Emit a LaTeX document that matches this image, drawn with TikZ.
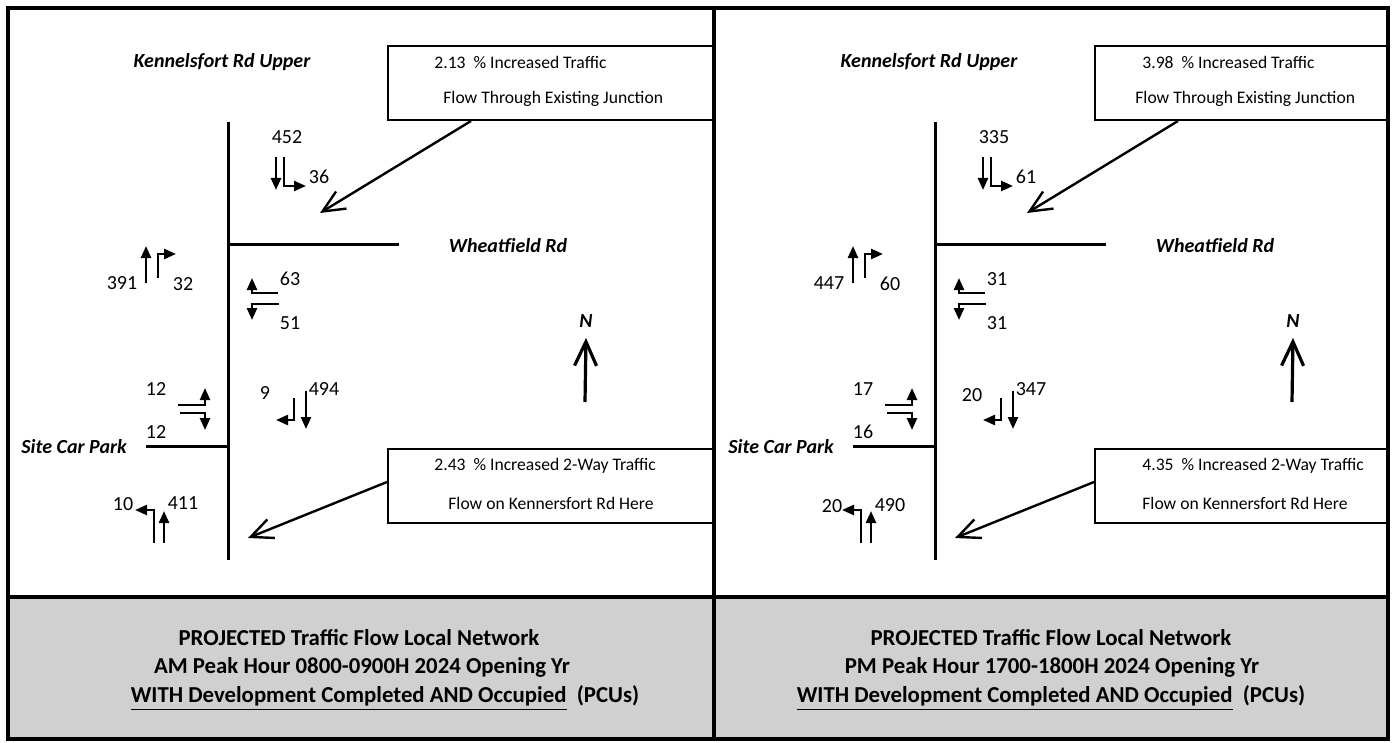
\documentclass[tikz,border=0pt]{standalone}
\usepackage{fontspec}
\setmainfont{Carlito}
\usepackage{tikz}
\usetikzlibrary{arrows.meta,positioning}
\definecolor{bandgray}{RGB}{208,208,208}

\begin{document}
\begin{tikzpicture}[x=0.5pt,y=-0.5pt,
  road/.style={line width=1.5pt},
  lane/.style={line width=1.2pt,-{Triangle[length=6pt,width=5pt]}},
  rdname/.style={font=\fontsize{10}{12}\selectfont\bfseries\itshape,inner sep=0pt},
  flow/.style={font=\fontsize{10}{12}\selectfont,inner sep=0pt},
  note/.style={draw,line width=1pt,anchor=north west,inner sep=0pt,minimum height=37pt},
  notetxt/.style={font=\fontsize{8.8}{10}\selectfont,anchor=west,inner sep=0pt},
  callout/.style={line width=1.2pt,-{Straight Barb[length=11pt,width=10pt]}},
  north/.style={line width=1.6pt,-{Straight Barb[length=12pt,width=11pt]}},
  caption/.style={font=\fontsize{11.4}{15}\selectfont\bfseries,inner sep=0pt}]
\useasboundingbox (0,0) rectangle (1396,743);
\fill[bandgray] (8,597) rectangle (1388,739);
\draw[line width=2pt] (8,8) rectangle (1388,739);
\draw[line width=2pt] (714,8) -- (714,739);
\draw[line width=2pt] (8,597) -- (1388,597);

% AM peak
\node (kupam) [rdname] at (222,62) {Kennelsfort Rd Upper};
\node (wfdam) [rdname] at (508,246) {Wheatfield Rd};
\node (scpam) [rdname] at (74,447) {Site Car Park};
\draw[road] (228,122) -- (228,560);
\draw[road] (228,245) -- (399,245);
\draw[road] (146,446) -- (228,446);

\node (sa1) [flow] at (287,137) {452};
\node (sa2) [flow] at (319,177) {36};
\draw[lane] (276,157) -- (276,190);
\draw[lane] (284,157) -- (284,186) -- (306,186);
\node (na1) [flow] at (122,283) {391};
\node (na2) [flow] at (183,284) {32};
\draw[lane] (146,283) -- (146,246);
\draw[lane] (158,278) -- (158,254) -- (176,254);
\node (wa1) [flow] at (290,279) {63};
\node (wa2) [flow] at (290,323) {51};
\draw[lane] (278,293) -- (252,293) -- (252,278);
\draw[lane] (279,304) -- (252,304) -- (252,320);
\node (ca1) [flow] at (156,389) {12};
\node (ca2) [flow] at (156,432) {12};
\draw[lane] (178,405) -- (205,405) -- (205,388);
\draw[lane] (180,413) -- (205,413) -- (205,430);
\node (sb1) [flow] at (265,393) {9};
\node (sb2) [flow] at (324,389) {494};
\draw[lane] (294,398) -- (294,420) -- (276,420);
\draw[lane] (306,391) -- (306,429);
\node (nb1) [flow] at (123,504) {10};
\node (nb2) [flow] at (183,503) {411};
\draw[lane] (154,543) -- (154,510) -- (135,510);
\draw[lane] (164,543) -- (164,511);

\node (jbxam) [note,minimum width=163pt] at (387,45) {};
\node (jt1am) [notetxt] at (434,62) {2.13\ \ \% Increased Traffic};
\node (jt2am) [notetxt] at (443,99) {Flow Through Existing Junction};
\coordinate (jtipam) at (320,213);
\draw[callout] ([xshift=42pt]jbxam.south west) -- (jtipam);
\node (kbxam) [note,minimum width=163pt] at (387,448) {};
\node (kt1am) [notetxt] at (434,466) {2.43\ \ \% Increased 2-Way Traffic};
\node (kt2am) [notetxt] at (448,503) {Flow on Kennersfort Rd Here};
\coordinate (ktipam) at (248,538);
\draw[callout] ([yshift=-17pt]kbxam.north west) -- (ktipam);

\node (nam) [rdname] at (586,321) {N};
\coordinate (ntam) at (585,402);
\draw[north] (ntam) -- ([yshift=-5pt]nam.south);

\node (cap1am) [caption] at (359,638) {PROJECTED Traffic Flow Local Network};
\node (cap2am) [caption] at (362,667) {AM Peak Hour 0800-0900H 2024 Opening Yr};
\node (cap3am) [caption] at (385,698) {\underline{WITH Development Completed AND Occupied}\ \ (PCUs)};

% PM peak
\begin{scope}[shift={(707,0)}]
\node (kuppm) [rdname] at (222,62) {Kennelsfort Rd Upper};
\node (wfdpm) [rdname] at (508,246) {Wheatfield Rd};
\node (scppm) [rdname] at (74,447) {Site Car Park};
\draw[road] (228,122) -- (228,560);
\draw[road] (228,245) -- (399,245);
\draw[road] (146,446) -- (228,446);

\node (sp1) [flow] at (287,137) {335};
\node (sp2) [flow] at (319,177) {61};
\draw[lane] (276,157) -- (276,190);
\draw[lane] (284,157) -- (284,186) -- (306,186);
\node (np1) [flow] at (122,283) {447};
\node (np2) [flow] at (183,284) {60};
\draw[lane] (146,283) -- (146,246);
\draw[lane] (158,278) -- (158,254) -- (176,254);
\node (wp1) [flow] at (290,279) {31};
\node (wp2) [flow] at (290,323) {31};
\draw[lane] (278,293) -- (252,293) -- (252,278);
\draw[lane] (279,304) -- (252,304) -- (252,320);
\node (cp1) [flow] at (156,389) {17};
\node (cp2) [flow] at (156,432) {16};
\draw[lane] (178,405) -- (205,405) -- (205,388);
\draw[lane] (180,413) -- (205,413) -- (205,430);
\node (sq1) [flow] at (265,395) {20};
\node (sq2) [flow] at (324,389) {347};
\draw[lane] (294,398) -- (294,420) -- (276,420);
\draw[lane] (306,391) -- (306,429);
\node (nq1) [flow] at (125,506) {20};
\node (nq2) [flow] at (183,505) {490};
\draw[lane] (154,543) -- (154,510) -- (135,510);
\draw[lane] (164,543) -- (164,511);

\node (jbxpm) [note,minimum width=147pt] at (387,45) {};
\node (jt1pm) [notetxt] at (435,62) {3.98\ \ \% Increased Traffic};
\node (jt2pm) [notetxt] at (428,99) {Flow Through Existing Junction};
\coordinate (jtippm) at (320,213);
\draw[callout] ([xshift=42pt]jbxpm.south west) -- (jtippm);
\node (kbxpm) [note,minimum width=147pt] at (387,448) {};
\node (kt1pm) [notetxt] at (435,466) {4.35\ \ \% Increased 2-Way Traffic};
\node (kt2pm) [notetxt] at (435,503) {Flow on Kennersfort Rd Here};
\coordinate (ktippm) at (248,538);
\draw[callout] ([yshift=-17pt]kbxpm.north west) -- (ktippm);

\node (npm) [rdname] at (586,321) {N};
\coordinate (ntpm) at (585,402);
\draw[north] (ntpm) -- ([yshift=-5pt]npm.south);

\node (cap1pm) [caption] at (344,638) {PROJECTED Traffic Flow Local Network};
\node (cap2pm) [caption] at (345,667) {PM Peak Hour 1700-1800H 2024 Opening Yr};
\node (cap3pm) [caption] at (344,698) {\underline{WITH Development Completed AND Occupied}\ \ (PCUs)};
\end{scope}
\end{tikzpicture}
\end{document}
